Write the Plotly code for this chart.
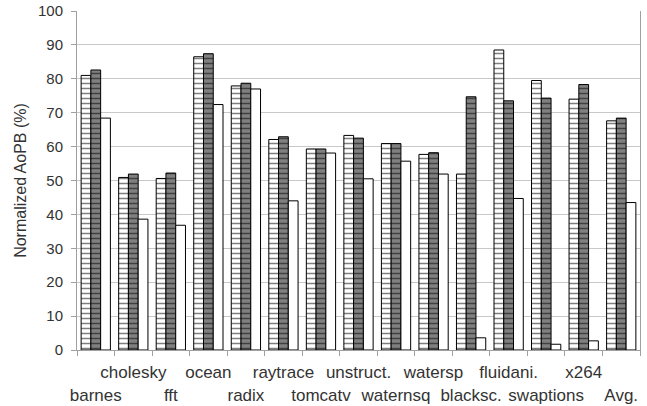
import plotly.graph_objects as go

categories = ["barnes", "cholesky", "fft", "ocean", "radix", "raytrace", "tomcatv",
              "unstruct.", "waternsq", "watersp", "blacksc.", "fluidani.", "swaptions",
              "x264", "Avg."]
series_a = [81.0, 50.9, 50.6, 86.5, 77.9, 62.1, 59.3, 63.3, 60.9, 57.7, 51.9, 88.5, 79.5, 74.0, 67.6]
series_b = [82.6, 51.9, 52.2, 87.4, 78.7, 62.9, 59.3, 62.5, 60.9, 58.2, 74.7, 73.5, 74.3, 78.3, 68.4]
series_c = [68.4, 38.6, 36.8, 72.4, 77.0, 44.0, 58.1, 50.5, 55.7, 51.9, 3.6, 44.7, 1.7, 2.7, 43.5]
y_ticks = list(range(0, 101, 10))

# staggered labels: even indices on the second row
tick_text = [("<br>" + c) if i % 2 == 0 else c for i, c in enumerate(categories)]

fig = go.Figure()
fig.add_trace(go.Bar(
    x=categories, y=series_a, name="A",
    marker=dict(color="white", line=dict(color="black", width=1),
                pattern=dict(shape="-", fgcolor="black", bgcolor="white", size=5, solidity=0.3)),
))
fig.add_trace(go.Bar(
    x=categories, y=series_b, name="B",
    marker=dict(color="#808080", line=dict(color="black", width=1),
                pattern=dict(shape="-", fgcolor="black", bgcolor="#808080", size=5, solidity=0.3)),
))
fig.add_trace(go.Bar(
    x=categories, y=series_c, name="C",
    marker=dict(color="white", line=dict(color="black", width=1)),
))

fig.update_layout(
    width=647, height=406,
    margin=dict(l=77, r=7, t=11, b=56),
    paper_bgcolor="white", plot_bgcolor="white",
    barmode="group", bargap=0.22, bargroupgap=0,
    showlegend=False,
    font=dict(family="Liberation Sans, Arial, sans-serif", color="#333333"),
)
fig.update_xaxes(
    tickmode="array", tickvals=categories, ticktext=tick_text, tickangle=0,
    tickson="boundaries", ticks="outside", ticklen=5, tickcolor="#a0a0a0",
    showline=True, linecolor="#a0a0a0", linewidth=1,
    tickfont=dict(size=17, color="#333333"), ticklabelstandoff=7,
    showgrid=False, mirror=False, automargin=False,
)
fig.update_yaxes(
    range=[0, 100], tickmode="array", tickvals=y_ticks,
    ticks="outside", ticklen=5, tickcolor="#a0a0a0",
    showline=True, linecolor="#a0a0a0", linewidth=1, mirror=True,
    showgrid=True, gridcolor="#c8c8c8", gridwidth=1,
    tickfont=dict(size=15, color="#333333"), ticklabelstandoff=5,
    title=dict(text="Normalized AoPB (%)", font=dict(size=16, color="#333333"), standoff=7),
    zeroline=False, automargin=False,
)

fig.write_html("out.html")
